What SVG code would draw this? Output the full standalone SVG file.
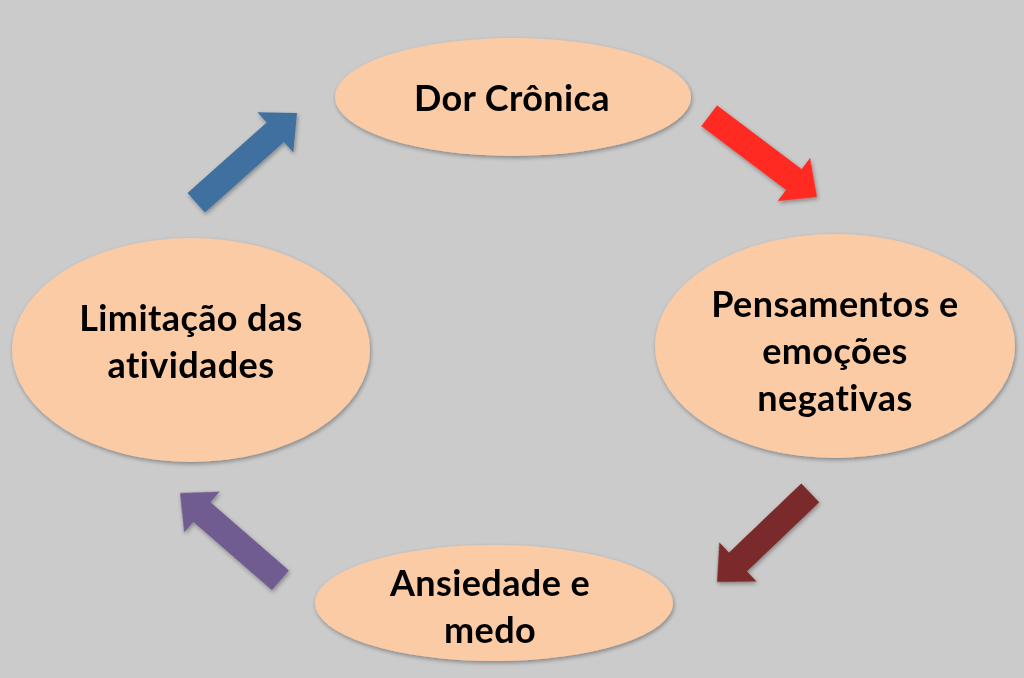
<svg xmlns="http://www.w3.org/2000/svg" width="1024" height="678" viewBox="0 0 1024 678">
<defs>
<filter id="sh" x="-20%" y="-20%" width="140%" height="140%">
<feGaussianBlur in="SourceAlpha" stdDeviation="2"/>
<feOffset dx="1" dy="2" result="b"/>
<feComponentTransfer><feFuncA type="linear" slope="0.35"/></feComponentTransfer>
<feMerge><feMergeNode/><feMergeNode in="SourceGraphic"/></feMerge>
</filter>
</defs>
<style>
.node ellipse{fill:#fbcba6;filter:url(#sh);}
.node text{font-family:Lato,"Open Sans",sans-serif;font-weight:bold;font-size:36px;letter-spacing:0.4px;fill:#000;text-anchor:middle;}
</style>
<rect width="1024" height="678" fill="#cbcbcb"/>
<g id="connectors" filter="url(#sh)">
<path id="a1" fill="#40709f" transform="translate(297,113) rotate(-41.7)" d="M0,0 L-29,-27 L-29,-13 L-135,-13 L-135,13 L-29,13 L-29,27 Z"/>
<path id="a2" fill="#ff2a20" transform="translate(817,197) rotate(37)" d="M0,0 L-29,-27 L-29,-13 L-135,-13 L-135,13 L-29,13 L-29,27 Z"/>
<path id="a3" fill="#7a2b2b" transform="translate(717,582) rotate(136.3)" d="M0,0 L-29,-27 L-29,-13 L-129,-13 L-129,13 L-29,13 L-29,27 Z"/>
<path id="a4" fill="#6f5b91" transform="translate(180,493) rotate(-139)" d="M0,0 L-29,-27 L-29,-13 L-133,-13 L-133,13 L-29,13 L-29,27 Z"/>
</g>
<g id="n1" class="node">
<ellipse cx="513" cy="97" rx="178" ry="59"/>
<text x="512" y="111">Dor Crônica</text>
</g>
<g id="n2" class="node">
<ellipse cx="835" cy="346" rx="180" ry="112"/>
<text x="835" y="317">Pensamentos e</text>
<text x="835" y="364">emoções</text>
<text x="835" y="411">negativas</text>
</g>
<g id="n3" class="node">
<ellipse cx="494" cy="603" rx="179" ry="58"/>
<text x="490" y="596">Ansiedade e</text>
<text x="490" y="643">medo</text>
</g>
<g id="n4" class="node">
<ellipse cx="191" cy="350" rx="179" ry="112"/>
<text x="191" y="331">Limitação das</text>
<text x="191" y="378">atividades</text>
</g>
</svg>
